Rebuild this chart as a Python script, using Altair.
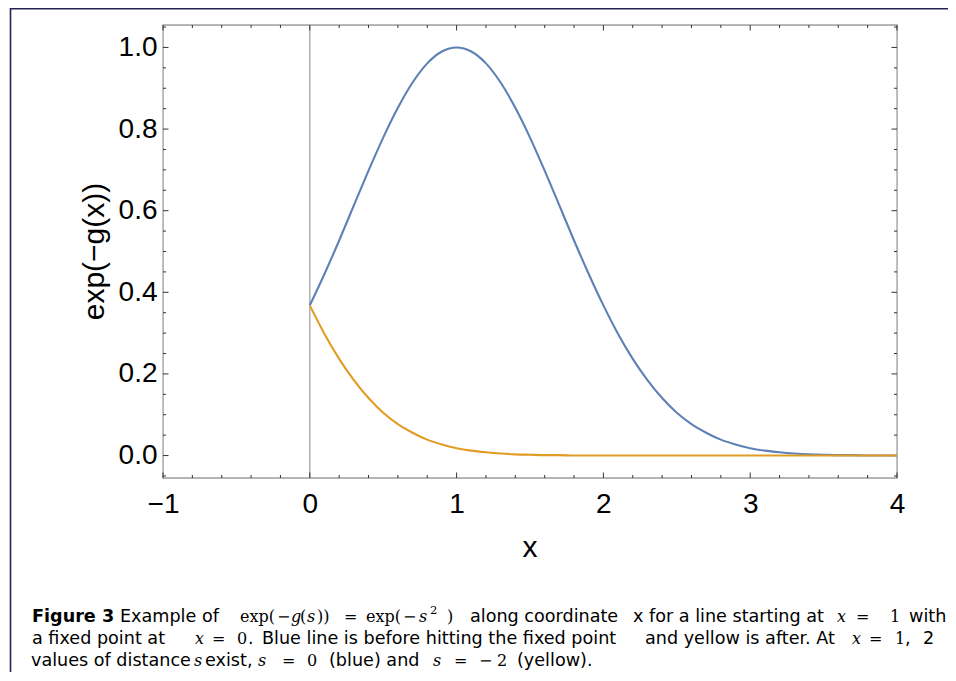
import altair as alt
import pandas as pd

# ---------------- data ----------------
x_vals = [0.0, 0.1, 0.2, 0.3, 0.4, 0.5, 0.6, 0.7, 0.8, 0.9, 1.0,
          1.1, 1.2, 1.3, 1.4, 1.5, 1.6, 1.7, 1.8, 1.9, 2.0,
          2.1, 2.2, 2.3, 2.4, 2.5, 2.6, 2.7, 2.8, 2.9, 3.0,
          3.1, 3.2, 3.3, 3.4, 3.5, 3.6, 3.7, 3.8, 3.9, 4.0]
before_vals = [0.368, 0.445, 0.527, 0.613, 0.698, 0.779, 0.852, 0.914, 0.961, 0.990, 1.000,
               0.990, 0.961, 0.914, 0.852, 0.779, 0.698, 0.613, 0.527, 0.445, 0.368,
               0.298, 0.237, 0.185, 0.141, 0.105, 0.077, 0.056, 0.039, 0.027, 0.018,
               0.012, 0.008, 0.005, 0.003, 0.002, 0.001, 0.001, 0.000, 0.000, 0.000]
after_vals = [0.368, 0.298, 0.237, 0.185, 0.141, 0.105, 0.077, 0.056, 0.039, 0.027, 0.018,
              0.012, 0.008, 0.005, 0.003, 0.002, 0.001, 0.001, 0.000, 0.000, 0.000,
              0.000, 0.000, 0.000, 0.000, 0.000, 0.000, 0.000, 0.000, 0.000, 0.000,
              0.000, 0.000, 0.000, 0.000, 0.000, 0.000, 0.000, 0.000, 0.000, 0.000]

x_major = [-1, 0, 1, 2, 3, 4]
x_minor = [-0.8, -0.6, -0.4, -0.2, 0.2, 0.4, 0.6, 0.8, 1.2, 1.4, 1.6, 1.8,
           2.2, 2.4, 2.6, 2.8, 3.2, 3.4, 3.6, 3.8]
y_major = [0.0, 0.2, 0.4, 0.6, 0.8, 1.0]
y_minor = [-0.05, 0.05, 0.1, 0.15, 0.25, 0.3, 0.35, 0.45, 0.5, 0.55, 0.65,
           0.7, 0.75, 0.85, 0.9, 0.95, 1.05]

x_title = "x"
y_title = "exp(\u2212g(x))"

# ---------------- layout ----------------
W, H = 734, 453          # plot area
PX0, PY0 = 163, 25       # page position of plot area
XDOM = [-1, 4]
YDOM = [-0.055, 1.055]
BLUE = "#5E81B5"
ORANGE = "#E19C24"
FRAME = "#a3a3a3"
TICK = "#333333"
NAVY = "#23244f"
AXFONT = "Liberation Sans"
SANS = "DejaVu Sans"
SANS_SIZE = 17.6
SERIF = "DejaVu Serif"
MS = 16  # math font size

xs = alt.Scale(domain=XDOM, nice=False, zero=False)
ys = alt.Scale(domain=YDOM, nice=False, zero=False)

curves = pd.DataFrame({"x": x_vals, "before": before_vals, "after": after_vals})
one = pd.DataFrame({"k": [0]})

base = alt.Chart(curves)

frame = alt.Chart(one).mark_rect(fill=None, stroke=FRAME, strokeWidth=1.3).encode(
    x=alt.value(0), x2=alt.value(W), y=alt.value(0), y2=alt.value(H))

zero_line = alt.Chart(one).mark_rule(color=FRAME, strokeWidth=1.3).encode(
    x=alt.datum(0, scale=xs, type="quantitative"), y=alt.value(0), y2=alt.value(H))

axes = base.mark_point(opacity=0).encode(
    x=alt.X("x:Q", scale=xs, axis=alt.Axis(
        values=x_major, format="d", labelFont=AXFONT, labelFontSize=28,
        labelColor="black", labelPadding=12, ticks=False, tickSize=0,
        domain=False, grid=False, title=None, labelFlush=False, labelOverlap=False)),
    y=alt.Y("before:Q", scale=ys, axis=alt.Axis(
        values=y_major, format=".1f", labelFont=AXFONT, labelFontSize=28,
        labelColor="black", labelPadding=6, ticks=False, tickSize=0,
        domain=False, grid=False, title=None, labelFlush=False, labelOverlap=False)),
)


def xticks(vals, length, top):
    d = pd.DataFrame({"v": vals})
    if top:
        y1, y2 = 0, length
    else:
        y1, y2 = H, H - length
    return alt.Chart(d).mark_rule(color=TICK, strokeWidth=1).encode(
        x=alt.X("v:Q", scale=xs), y=alt.value(y1), y2=alt.value(y2))


def yticks(vals, length, right):
    d = pd.DataFrame({"v": vals})
    if right:
        x1, x2 = W, W - length
    else:
        x1, x2 = 0, length
    return alt.Chart(d).mark_rule(color=TICK, strokeWidth=1).encode(
        y=alt.Y("v:Q", scale=ys), x=alt.value(x1), x2=alt.value(x2))


ticks = [xticks(x_major, 5.5, False), xticks(x_minor, 3, False),
         xticks(x_major, 5.5, True), xticks(x_minor, 3, True),
         yticks(y_major, 5.5, False), yticks(y_minor, 3, False),
         yticks(y_major, 5.5, True), yticks(y_minor, 3, True)]

line_before = base.mark_line(color=BLUE, strokeWidth=2.1, interpolate="monotone").encode(
    x=alt.X("x:Q", scale=xs), y=alt.Y("before:Q", scale=ys))
line_after = base.mark_line(color=ORANGE, strokeWidth=2.1, interpolate="monotone").encode(
    x=alt.X("x:Q", scale=xs), y=alt.Y("after:Q", scale=ys))


def txt(s, px, py, font=SANS, size=SANS_SIZE, style="normal", weight="normal",
        angle=0, align="left"):
    return alt.Chart(one).mark_text(
        text=s, font=font, fontSize=size, fontStyle=style, fontWeight=weight,
        align=align, baseline="alphabetic", angle=angle, color="black").encode(
        x=alt.value(px - PX0), y=alt.value(py - PY0))


def m(s, px, py, italic=False, size=MS):
    return txt(s, px, py, font=SERIF, size=size, style="italic" if italic else "normal")


titles = [
    txt(x_title, 530, 557, font=AXFONT, size=30, align="center"),
    txt(y_title, 103.5, 251.5, font=AXFONT, size=30, align="center", angle=270),
]

# border of the figure box
border = [
    alt.Chart(one).mark_rule(color=NAVY, strokeWidth=1.6).encode(
        x=alt.value(10 - PX0), x2=alt.value(8 + 940 - PX0),
        y=alt.value(8.8 - PY0)),
    alt.Chart(one).mark_rule(color=NAVY, strokeWidth=1.6).encode(
        x=alt.value(10.5 - PX0), y=alt.value(8 - PY0), y2=alt.value(8 + 664 - PY0)),
]

# caption, in segments placed at page positions
L1, L2, L3 = 621.7, 644.0, 665.5
cap = [
    txt("Figure 3", 32, L1, weight="bold"),
    txt("Example of", 120, L1),
    m("exp(", 240, L1),
    m("\u2212", 277, L1),
    m("g", 291, L1, italic=True),
    m("(", 300, L1),
    m("s", 307, L1, italic=True),
    m("))", 317, L1),
    m("=", 344, L1),
    m("exp(", 366, L1),
    m("\u2212", 403, L1),
    m("s", 419, L1, italic=True),
    m("2", 430, L1 - 7.5, size=11.5),
    m(")", 447, L1),
    txt("along coordinate", 470, L1),
    txt("x for a line starting at", 633, L1),
    m("x", 837, L1, italic=True),
    m("=", 856, L1),
    m("1", 890, L1),
    txt("with", 909, L1),

    txt("a fixed point at", 32, L2),
    m("x", 195, L2, italic=True),
    m("=", 212, L2),
    m("0", 237, L2),
    txt(".", 248, L2),
    txt("Blue line is before hitting the fixed point", 262, L2),
    txt("and yellow is after. At", 645, L2),
    m("x", 852, L2, italic=True),
    m("=", 869, L2),
    m("1", 895, L2),
    txt(",", 905, L2),
    txt("2", 923, L2),

    txt("values of distance", 31, L3),
    m("s", 194, L3, italic=True),
    txt("exist,", 205, L3),
    m("s", 258, L3, italic=True),
    m("=", 282, L3),
    m("0", 307, L3),
    txt("(blue) and", 329, L3),
    m("s", 433, L3, italic=True),
    m("=", 454, L3),
    m("\u2212", 479, L3),
    m("2", 497, L3),
    txt("(yellow).", 517, L3),
]

chart = alt.layer(
    axes, frame, zero_line, *ticks, line_before, line_after, *titles, *border, *cap
).properties(
    width=W, height=H,
    padding={"left": PX0 - 8, "top": PY0 - 8, "right": 940 - (PX0 - 8) - W,
             "bottom": 664 - (PY0 - 8) - H},
    autosize="none",
).configure_view(stroke=None).configure(background="white")

chart.save("out.html", embed_options={"renderer": "svg", "actions": False})
